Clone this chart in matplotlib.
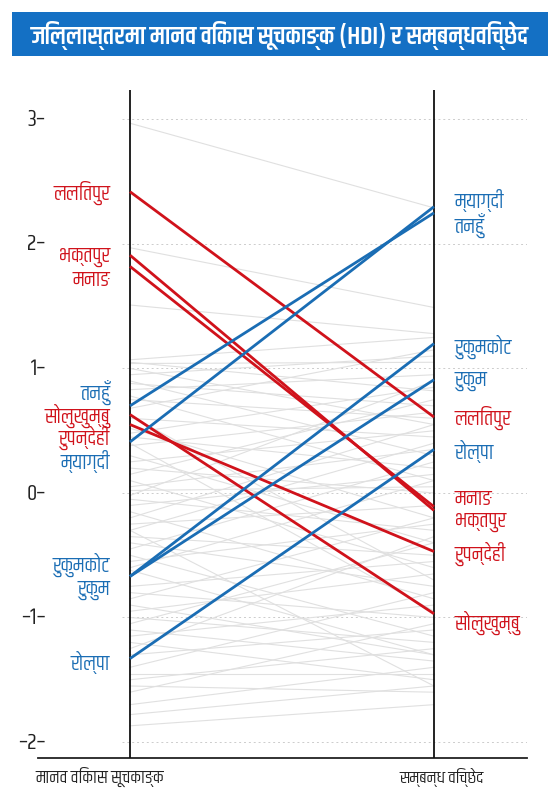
import matplotlib
matplotlib.use("Agg")
import matplotlib.pyplot as plt
from matplotlib import font_manager as fm
from matplotlib.ft2font import FT2Font
from matplotlib.patches import Rectangle

# ---------------- data ----------------
title = "जिल्लास्तरमा मानव विकास सूचकाङ्क (HDI) र सम्बन्धविच्छेद"
xlabel_left = "मानव विकास सूचकाङ्क"
xlabel_right = "सम्बन्ध विच्छेद"

ytick_values = [3, 2, 1, 0, -1, -2]
ytick_labels = ["३–", "२–", "१–", "0–", "–१–", "–२–"]

hl_names = ["ललितपुर", "भक्तपुर", "मनाङ", "तनहुँ", "सोलुखुम्बु", "रुपन्देही",
            "म्याग्दी", "रुकुमकोट", "रुकुम", "रोल्पा"]
hl_hdi = [2.42, 1.91, 1.82, 0.70, 0.63, 0.55, 0.41, -0.67, -0.67, -1.33]
hl_div = [0.61, -0.14, -0.11, 2.25, -0.97, -0.47, 2.30, 1.20, 0.91, 0.35]
hl_group = ["r", "r", "r", "b", "r", "r", "b", "b", "b", "b"]

gray_hdi = [2.97, 1.97, 1.51, 1.07, 1.05, 1.04, 1.00, 0.95, 0.90, 0.88, 0.83, 0.78,
            0.75, 0.68, 0.60, 0.52, 0.48, 0.45, 0.38, 0.30, 0.25, 0.20, 0.15, 0.10,
            0.05, 0.02, -0.02, -0.05, -0.10, -0.15, -0.20, -0.25, -0.30, -0.35, -0.40,
            -0.45, -0.50, -0.55, -0.60, -0.75, -0.80, -0.85, -0.90, -0.95, -1.00, -1.05,
            -1.10, -1.15, -1.20, -1.25, -1.30, -1.40, -1.45, -1.50, -1.55, -1.60, -1.70,
            -1.78, -1.87, -0.62, 0.40, 0.62, -0.30]
gray_div = [2.29, 1.49, 1.28, 1.25, 0.82, 1.05, 0.55, 1.10, 0.30, 0.70, 0.95, 0.10,
            0.60, 1.15, 0.45, -0.20, 0.85, 0.20, 0.65, -0.40, 0.50, 0.00, 0.75, -0.60,
            0.35, 0.05, 0.90, -0.30, 0.15, -0.85, 0.55, -0.10, 0.40, -0.50, -0.75,
            0.25, -1.15, -0.25, 0.10, -0.55, -1.00, -0.20, -1.30, -0.65, -1.20, -0.40,
            -1.35, -0.90, -1.50, -0.35, -1.10, -0.80, -1.45, -1.25, -1.60, -1.05, -1.40,
            -1.55, -1.70, -1.30, -0.95, -0.70, -1.55]

# label layout (data units, nudged to avoid overlap), same order as hl_names
left_label_y = [2.41, 1.89, 1.71, 0.81, 0.62, 0.44, 0.25, -0.58, -0.78, -1.36]
right_label_y = [0.60, -0.24, -0.05, 2.15, -1.04, -0.49, 2.35, 1.17, 0.90, 0.33]

# ---------------- fonts ----------------
deva = set()
for f in fm.fontManager.ttflist:
    try:
        if 0x0915 in FT2Font(f.fname).get_charmap():
            deva.add(f.name)
    except Exception:
        pass
pref = ["Khand", "Teko", "Rajdhani", "Mukta", "Yantramanav", "Hind", "Noto Sans Devanagari"]
chosen = next((p for p in pref if p in deva), sorted(deva)[0] if deva else "DejaVu Sans")
plt.rcParams["font.family"] = [chosen, "DejaVu Sans"]

RED = "#d0121b"
BLUE = "#1a6db4"
GRAY = "#e0e0e0"

W, H = 559, 805
fig = plt.figure(figsize=(W / 100, H / 100), dpi=100)

def px(x0, y0):
    return x0 / W, 1 - y0 / H

ax_l, ax_r, ax_t, ax_b = 38, 527, 90, 758
ax = fig.add_axes([ax_l / W, 1 - ax_b / H, (ax_r - ax_l) / W, (ax_b - ax_t) / H])
xL, xR = 130, 434
sx = xR - xL
ax.set_xlim((ax_l - xL) / sx, (ax_r - xL) / sx)
y0px, upx = 493, 124.5
ax.set_ylim((y0px - ax_b) / upx, (y0px - ax_t) / upx)

for s in ["left", "right", "top"]:
    ax.spines[s].set_visible(False)
ax.spines["bottom"].set_linewidth(1.3)
ax.spines["bottom"].set_color("#222222")
ax.set_xticks([])
ax.set_yticks([])

for v, lab in zip(ytick_values, ytick_labels):
    ax.plot([(122 - xL) / sx, (527 - xL) / sx], [v, v], ls=(0, (2, 3)), color="#cccccc",
            lw=0.7, zorder=0)
    ax.text((46 - xL) / sx, v, lab, ha="right", va="center",
            fontsize=16.5, color="#222222", clip_on=False)

ax.axvline(0, color="#111111", lw=1.3, zorder=3)
ax.axvline(1, color="#111111", lw=1.3, zorder=3)

for a, b in zip(gray_hdi, gray_div):
    ax.plot([0, 1], [a, b], color=GRAY, lw=0.8, zorder=1)

for a, b, g in zip(hl_hdi, hl_div, hl_group):
    ax.plot([0, 1], [a, b], color=RED if g == "r" else BLUE, lw=2.0, zorder=4,
            solid_capstyle="butt")

for n, ly, ry, g in zip(hl_names, left_label_y, right_label_y, hl_group):
    c = RED if g == "r" else BLUE
    ax.text((110 - xL) / sx, ly, n, ha="right", va="center", fontsize=15, color=c)
    ax.text((455 - xL) / sx, ry, n, ha="left", va="center", fontsize=15, color=c)

fig.text(*px(100, 777), xlabel_left, ha="center", va="center", fontsize=13, color="#222222")
fig.text(*px(442, 777), xlabel_right, ha="center", va="center", fontsize=12.5, color="#222222")

fig.patches.append(Rectangle(px(12, 56), (548 - 12) / W, 44 / H, transform=fig.transFigure,
                             facecolor="#1470c4", edgecolor="none"))
fig.text(*px(280, 35), title, ha="center", va="center", fontsize=18, color="white",
         fontweight=600)

fig.savefig("out.png", dpi=100)
